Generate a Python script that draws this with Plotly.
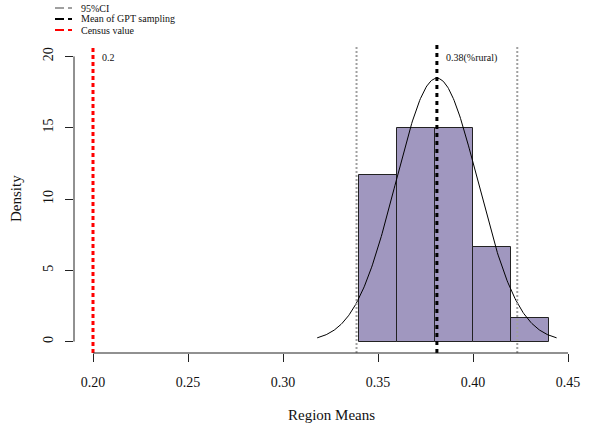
import numpy as np
import plotly.graph_objects as go

# ---- data ----
bin_left = [0.34, 0.36, 0.38, 0.40, 0.42]
bin_width = 0.02
density = [11.667, 15.0, 15.0, 6.667, 1.667]
sample_mean = 0.381
sample_sd = 0.0216
ci_low = 0.3387
ci_high = 0.4233
census_value = 0.20
curve_from, curve_to = 0.318, 0.444
x_ticks = [0.20, 0.25, 0.30, 0.35, 0.40, 0.45]
x_tick_text = ["0.20", "0.25", "0.30", "0.35", "0.40", "0.45"]
y_ticks = [0, 5, 10, 15, 20]
legend_labels = ["95%CI", "Mean of GPT sampling", "Census value"]

FONT = "Liberation Serif"
TXT = "#111111"
W, H = 592, 425
ML, MR, MT, MB = 74, 5, 45, 72
PW = W - ML - MR
PH = H - MT - MB

def px_x(px):  # page pixel -> paper
    return (px - ML) / PW

def px_y(py):
    return 1 - (py - MT) / PH

fig = go.Figure()

centers = [b + bin_width / 2 for b in bin_left]
fig.add_trace(go.Bar(
    x=centers, y=density, width=[bin_width] * len(centers),
    marker=dict(color="#A097BF", line=dict(color="#222222", width=1)),
    showlegend=False, hoverinfo="skip"))

xs = np.linspace(curve_from, curve_to, 300)
ys = np.exp(-0.5 * ((xs - sample_mean) / sample_sd) ** 2) / (sample_sd * np.sqrt(2 * np.pi))
fig.add_trace(go.Scatter(x=xs, y=ys, mode="lines",
                         line=dict(color="black", width=1), showlegend=False, hoverinfo="skip"))

def vline(x, color, width, dash):
    fig.add_shape(type="line", xref="x", yref="paper", x0=x, x1=x, y0=0, y1=1,
                  line=dict(color=color, width=width, dash=dash), layer="above")

vline(ci_low, "#a0a0a0", 2, "2px,2px")
vline(ci_high, "#a0a0a0", 2, "2px,2px")
vline(sample_mean, "black", 3, "4px,4px")
vline(census_value, "#ff0000", 3, "4px,3px")

fig.add_shape(type="line", xref="paper", yref="y", x0=0, x1=0, y0=y_ticks[0], y1=y_ticks[-1],
              line=dict(color="#222222", width=1))
fig.add_shape(type="line", xref="x", yref="paper", x0=x_ticks[0], x1=x_ticks[-1], y0=0, y1=0,
              line=dict(color="#222222", width=1))

fig.add_annotation(x=census_value, y=19.9, xref="x", yref="y", text=f"{census_value:.1f}",
                   showarrow=False, xanchor="left", yanchor="middle", xshift=7,
                   font=dict(family=FONT, size=10, color=TXT))
fig.add_annotation(x=sample_mean, y=19.9, xref="x", yref="y",
                   text=f"{round(sample_mean, 2):.2f}(%rural)",
                   showarrow=False, xanchor="left", yanchor="middle", xshift=7,
                   font=dict(family=FONT, size=10, color=TXT))

fig.add_annotation(x=px_x(331), y=px_y(415), xref="paper", yref="paper", text="Region Means",
                   showarrow=False, xanchor="center", yanchor="middle",
                   font=dict(family=FONT, size=15, color=TXT))
fig.add_annotation(x=px_x(16), y=0.5, xref="paper", yref="paper", text="Density", textangle=-90,
                   showarrow=False, xanchor="center", yanchor="middle",
                   font=dict(family=FONT, size=15, color=TXT))

leg_colors = ["#a0a0a0", "black", "#ff0000"]
leg_y = [8, 19, 30]
for lab, col, yy in zip(legend_labels, leg_colors, leg_y):
    fig.add_shape(type="line", xref="paper", yref="paper", x0=px_x(55), x1=px_x(72),
                  y0=px_y(yy), y1=px_y(yy), line=dict(color=col, width=2, dash="9px,4px"))
    fig.add_annotation(x=px_x(79), y=px_y(yy), xref="paper", yref="paper", text=lab,
                       showarrow=False, xanchor="left", yanchor="middle",
                       font=dict(family=FONT, size=10, color=TXT))

fig.update_layout(
    width=W, height=H, margin=dict(l=ML, r=MR, t=MT, b=MB, autoexpand=False),
    paper_bgcolor="white", plot_bgcolor="white", bargap=0, showlegend=False,
    font=dict(family=FONT, color=TXT),
    xaxis=dict(range=[0.19, 0.46], tickvals=x_ticks, ticktext=x_tick_text,
               ticks="outside", ticklen=8, tickcolor="#222222", showgrid=False,
               zeroline=False, showline=False, ticklabelstandoff=8, automargin=False,
               tickfont=dict(family=FONT, size=14, color=TXT)),
    yaxis=dict(range=[-0.8, 20.8], tickvals=y_ticks, ticks="outside", ticklen=8,
               tickcolor="#222222", showgrid=False, zeroline=False, showline=False,
               tickangle=-90, ticklabelstandoff=6, automargin=False,
               tickfont=dict(family=FONT, size=14, color=TXT)),
)

fig.write_html("out.html", config={"displayModeBar": False},
               post_script="document.body.style.margin='0px';")
